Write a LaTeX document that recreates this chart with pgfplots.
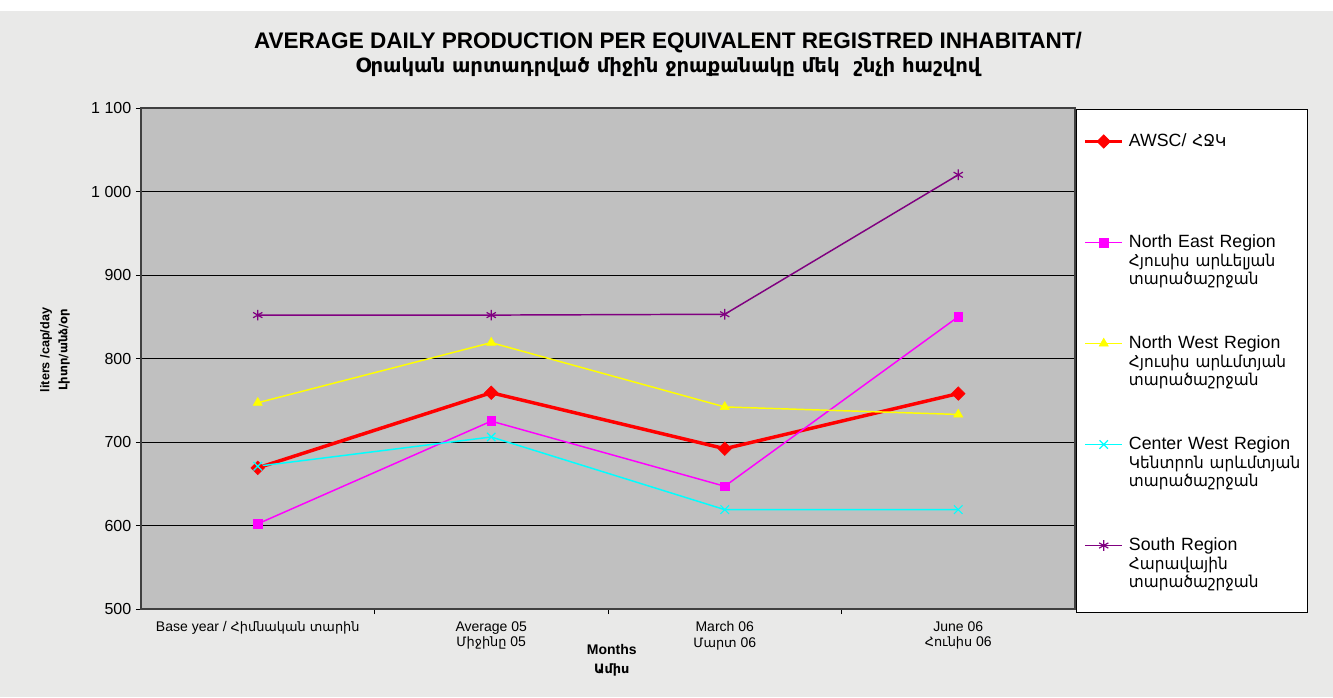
\documentclass[border=0pt]{standalone}
\usepackage{fontspec}
\usepackage{pgfplots}
\pgfplotsset{compat=1.18}
\setmainfont{Liberation Sans}
\newfontfamily\armfont[Scale=0.92]{DejaVu Sans}
\newfontfamily\armfontL[Scale=0.92, FakeStretch=0.94]{DejaVu Sans}
\newcommand{\A}[1]{{\armfont #1}}
\newcommand{\AL}[1]{{\armfontL #1}}
\definecolor{bgtex}{HTML}{E9E9E8}
\definecolor{plotgray}{HTML}{C0C0C0}
\definecolor{southpurple}{HTML}{800080}
\definecolor{mred}{RGB}{255,0,0}
\definecolor{mmag}{RGB}{255,0,255}
\definecolor{myel}{RGB}{255,255,0}
\definecolor{mcyan}{RGB}{0,255,255}
\begin{document}
\begin{tikzpicture}
\fill[white] (0,0) rectangle (999.75pt,522.75pt);
\fill[bgtex] (0,0) rectangle (999.75pt,514.5pt);
\useasboundingbox (0,0) rectangle (999.75pt,522.75pt);
\node[anchor=base, font=\bfseries\fontsize{16.9}{18}\selectfont] at (501pt,486pt) {AVERAGE DAILY PRODUCTION PER EQUIVALENT REGISTRED INHABITANT/};
\node[anchor=base, font=\bfseries\fontsize{16}{18}\selectfont] at (501pt,468.5pt) {\A{Օրական արտադրված միջին ջրաքանակը մեկ~~շնչի հաշվով}};
\begin{axis}[
  at={(105.75pt,66pt)}, anchor=south west,
  scale only axis, width=700.5pt, height=375.75pt,
  xmin=-0.5, xmax=3.5, ymin=500, ymax=1100,
  tick pos=left,
  xtick={0,1,2,3},
  xticklabels={{Base year / \A{Հիմնական տարին}},{Average 05\\\A{Միջինը} 05},{March 06\\\A{Մարտ} 06},{June 06\\\A{Հունիս} 06}},
  xticklabel style={align=center, font=\fontsize{10.5}{11.75}\selectfont, yshift=-2pt},
  minor xtick={0.5,1.5,2.5},
  ytick={500,600,700,800,900,1000,1100},
  yticklabels={500,600,700,800,900,1 000,1 100},
  yticklabel style={font=\fontsize{12}{14}\selectfont},
  ymajorgrids, grid style={black, line width=0.6pt},
  axis background/.style={fill=plotgray},
  axis line style={black!75, line width=0.9pt},
  tick align=outside,
  major tick length=3.75pt, minor tick length=3.75pt,
  major x tick style={draw=none},
  minor x tick style={black, line width=0.6pt},
  major y tick style={black, line width=0.6pt},
  xlabel={Months\\\A{Ամիս}},
  every axis x label/.style={at={(axis description cs:0.504,-0.102)}, anchor=center, align=center, font=\bfseries\fontsize{10.5}{14}\selectfont},
  ylabel={liters /cap/day\\\A{Լիտր/անձ/օր}},
  every axis y label/.style={at={(axis description cs:-0.0921,0.517)}, rotate=90, anchor=center, align=center, font=\bfseries\fontsize{9.5}{13.5}\selectfont},
  legend style={at={(rel axis cs:1,1)}, anchor=north west, xshift=0.75pt, yshift=-0.75pt,
    draw=black, fill=white, line width=0.75pt, inner xsep=5.25pt, inner ysep=17.75pt,
    row sep=37pt, /tikz/every odd column/.append style={column sep=3.75pt},
    nodes={anchor=base west, text width=129pt, text height=10pt, text depth=28.75pt, inner sep=0pt, align=left, font=\fontsize{13.3}{14}\selectfont}},
  legend image code/.code={\draw[mark repeat=2,mark phase=2,#1] plot coordinates {(0pt,3.75pt)(13.875pt,3.75pt)(27.75pt,3.75pt)};},
]
\addplot[color=mred, line width=2.6pt, mark=square*, mark size=3.6pt, mark options={rotate=45, solid, line width=0.4pt}]
  coordinates {(0,669)(1,759)(2,692)(3,758)};
\addlegendentry{AWSC/ \AL{ՀՋԿ}}
\addplot[color=mmag, line width=1.1pt, mark=square*, mark size=3.3pt, mark options={solid, line width=0.4pt}]
  coordinates {(0,602)(1,725)(2,647)(3,850)};
\addlegendentry{North East Region\\\mbox{\AL{Հյուսիս արևելյան}}\\\AL{տարածաշրջան}}
\addplot[color=myel, line width=1.1pt, mark=triangle*, mark size=4pt, mark options={solid, line width=0.4pt}]
  coordinates {(0,747)(1,819)(2,742)(3,733)};
\addlegendentry{North West Region\\\mbox{\AL{Հյուսիս արևմտյան}}\\\AL{տարածաշրջան}}
\addplot[color=mcyan, line width=1.1pt, mark=x, mark size=4.5pt, mark options={solid, line width=0.9pt}]
  coordinates {(0,671)(1,706)(2,619)(3,619)};
\addlegendentry{Center West Region\\\mbox{\AL{Կենտրոն արևմտյան}}\\\AL{տարածաշրջան}}
\addplot[color=southpurple, line width=1.1pt, mark=asterisk, mark size=4pt, mark options={solid, line width=0.9pt}]
  coordinates {(0,852)(1,852)(2,853)(3,1020)};
\addlegendentry{South Region\\\AL{Հարավային}\\\AL{տարածաշրջան}}
\end{axis}
\end{tikzpicture}
\end{document}
